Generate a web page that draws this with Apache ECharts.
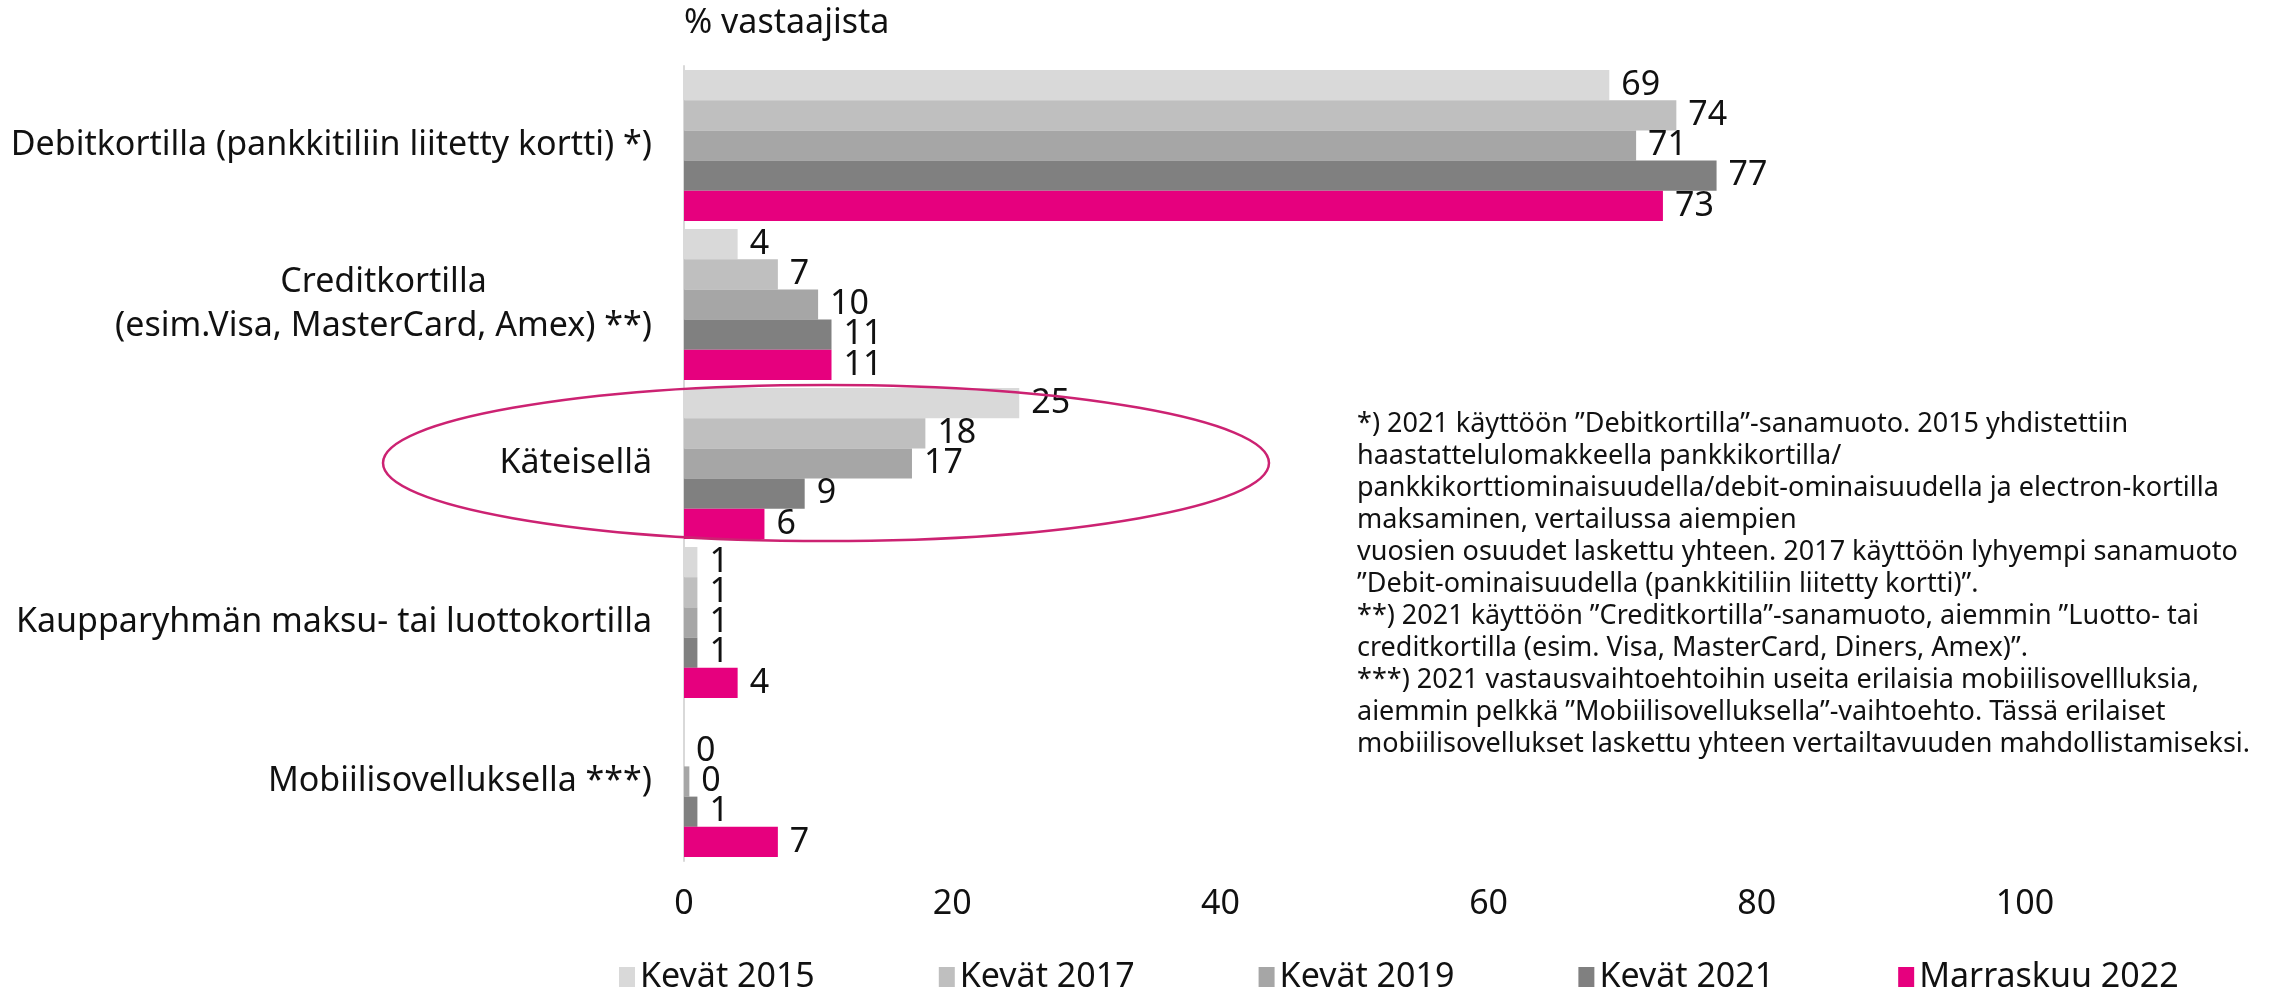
<!DOCTYPE html>
<html>
<head>
<meta charset="utf-8">
<script src="https://cdn.jsdelivr.net/npm/echarts@6/dist/echarts.min.js"></script>
<style>html,body{margin:0;padding:0;background:#fff}#c{width:2293px;height:995px}</style>
</head>
<body>
<div id="c"></div>
<script>
const categories = [
  'Debitkortilla (pankkitiliin liitetty kortti) *)',
  'Creditkortilla\n(esim.Visa, MasterCard, Amex) **)',
  'Käteisellä',
  'Kaupparyhmän maksu- tai luottokortilla',
  'Mobiilisovelluksella ***)'
];
const seriesNames = ['Kevät 2015', 'Kevät 2017', 'Kevät 2019', 'Kevät 2021', 'Marraskuu 2022'];
const kevat2015 = [69, 4, 25, 1, null];
const kevat2017 = [74, 7, 18, 1, 0];
const kevat2019 = [71, 10, 17, 1, 0.4];
const kevat2021 = [77, 11, 9, 1, 1];
const marras2022 = [73, 11, 6, 4, 7];
const xTicks = [0, 20, 40, 60, 80, 100];
const axisTitle = '% vastaajista';
const noteLines = [
  '*) 2021 käyttöön ”Debitkortilla”-sanamuoto. 2015 yhdistettiin',
  'haastattelulomakkeella pankkikortilla/',
  'pankkikorttiominaisuudella/debit-ominaisuudella ja electron-kortilla',
  'maksaminen, vertailussa aiempien',
  'vuosien osuudet laskettu yhteen. 2017 käyttöön lyhyempi sanamuoto',
  '”Debit-ominaisuudella (pankkitiliin liitetty kortti)”.',
  '**) 2021 käyttöön ”Creditkortilla”-sanamuoto, aiemmin ”Luotto- tai',
  'creditkortilla (esim. Visa, MasterCard, Diners, Amex)”.',
  '***) 2021 vastausvaihtoehtoihin useita erilaisia mobiilisovellluksia,',
  'aiemmin pelkkä ”Mobiilisovelluksella”-vaihtoehto. Tässä erilaiset',
  'mobiilisovellukset laskettu yhteen vertailtavuuden mahdollistamiseksi.'
];

const allData = [kevat2015, kevat2017, kevat2019, kevat2021, marras2022];
const colors = ['#d9d9d9', '#bfbfbf', '#a6a6a6', '#808080', '#e6007e'];
const FONT = '"Noto Sans", sans-serif';

const chart = echarts.init(document.getElementById('c'), null, {renderer: 'canvas'});
const option = {
  animation: false,
  textStyle: {fontFamily: FONT},
  grid: {left: 684, right: 268, top: 66, bottom: 134, containLabel: false},
  xAxis: {
    type: 'value', min: 0, max: 100, interval: 20,
    axisLine: {show: false}, axisTick: {show: false}, splitLine: {show: false},
    axisLabel: {fontSize: 34, color: '#111', margin: 26, fontFamily: FONT,
      formatter: v => xTicks.indexOf(v) >= 0 ? String(v) : ''}
  },
  yAxis: {
    type: 'category', data: categories, inverse: true,
    axisLine: {show: true, lineStyle: {color: '#d9d9d9', width: 2}},
    axisTick: {show: false},
    axisLabel: {
      fontSize: 34, color: '#111', margin: 32, fontFamily: FONT, lineHeight: 44,
      formatter: v => v.split('\n').map(s => '{c|' + s + '}').join('\n'),
      rich: {c: {align: 'center', fontSize: 34, lineHeight: 44, fontFamily: FONT, color: '#111'}}
    }
  },
  legend: {
    top: 955, left: 614, itemGap: 124, itemWidth: 16, itemHeight: 20,
    icon: 'rect',
    textStyle: {fontSize: 34, color: '#111', fontFamily: FONT},
    data: seriesNames
  },
  graphic: [
    {type: 'text', left: 684, top: 6, style: {text: axisTitle, font: '34px "Noto Sans"', fill: '#111'}},
    {type: 'ellipse', z: 100, shape: {cx: 826, cy: 463, rx: 443, ry: 78},
      style: {fill: 'none', stroke: '#cc2272', lineWidth: 2.5}},
    {type: 'text', left: 1357, top: 408, style: {text: noteLines.join('\n'), font: '27px "Noto Sans"', lineHeight: 32, fill: '#111'}}
  ],
  series: allData.map((d, i) => ({
    name: seriesNames[i], type: 'bar', data: d,
    barGap: '0%', barCategoryGap: '5%',
    itemStyle: {color: colors[i]},
    label: {show: true, position: 'right', distance: 12, fontSize: 34, color: '#111', fontFamily: FONT,
      formatter: p => p.value == null ? '' : String(Math.round(p.value))}
  }))
};
chart.setOption(option);
</script>
</body>
</html>
